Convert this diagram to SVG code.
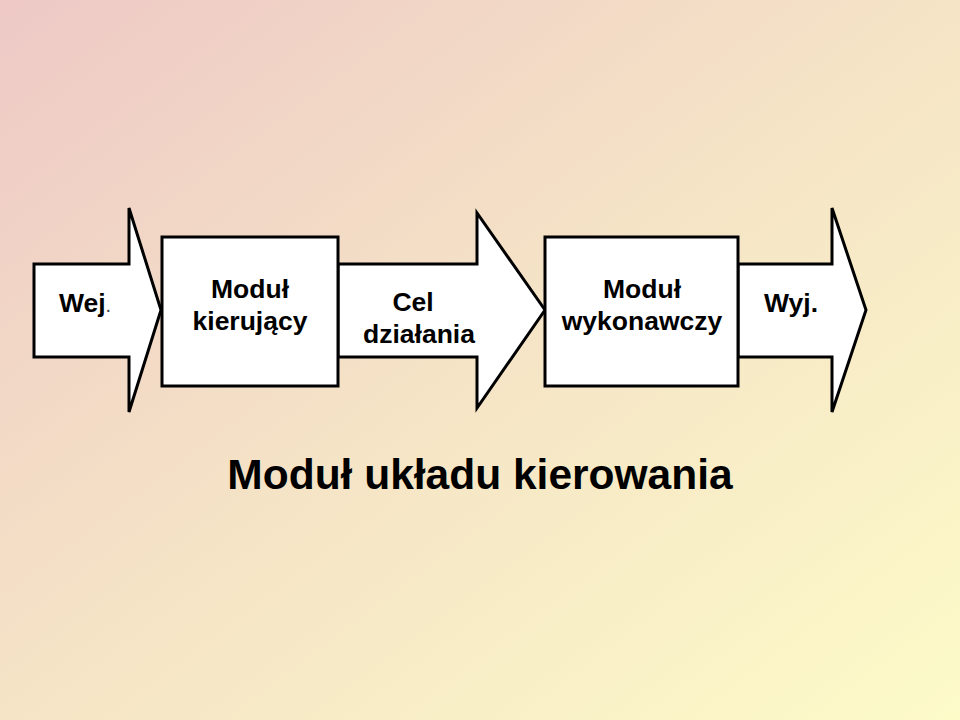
<svg xmlns="http://www.w3.org/2000/svg" width="960" height="720" viewBox="0 0 960 720">
<defs>
<linearGradient id="bg" x1="0" y1="0" x2="1" y2="1">
<stop offset="0" stop-color="#eec9c6"/>
<stop offset="0.5" stop-color="#f5e4c6"/>
<stop offset="1" stop-color="#fdfbc8"/>
</linearGradient>
<style>
.s{fill:#fff;stroke:#000;stroke-width:3;stroke-linejoin:miter}
.t{font-family:"Liberation Sans",Arial,sans-serif;font-weight:bold;font-size:26.5px;text-anchor:middle;fill:#000}
</style>
</defs>
<rect width="960" height="720" fill="url(#bg)"/>
<g id="connectors">
<polygon id="arrow-in" class="s" points="34,264 129,264 129,208 161,310 129,412 129,357 34,357"/>
<polygon id="arrow-cel" class="s" points="338,264 477,264 477,213 545,310 477,408 477,357 338,357"/>
<polygon id="arrow-out" class="s" points="738,264 832,264 832,208 866,310 832,412 832,357 738,357"/>
</g>
<g id="box1"><rect class="s" x="162" y="237" width="176" height="149"/>
<text class="t" x="250" y="298">Moduł</text><text class="t" x="250" y="330">kierujący</text></g>
<g id="box2"><rect class="s" x="545" y="237" width="193" height="149"/>
<text class="t" x="642" y="298">Moduł</text><text class="t" x="642" y="330">wykonawczy</text></g>
<text class="t" x="85" y="312">Wej<tspan style="font-weight:normal;font-size:20px;fill:#444">.</tspan></text>
<text class="t" x="413" y="311">Cel</text><text class="t" x="419" y="343">działania</text>
<text class="t" x="791" y="312">Wyj.</text>
<text class="t" x="480" y="489" style="font-size:42.5px">Moduł układu kierowania</text>
</svg>
